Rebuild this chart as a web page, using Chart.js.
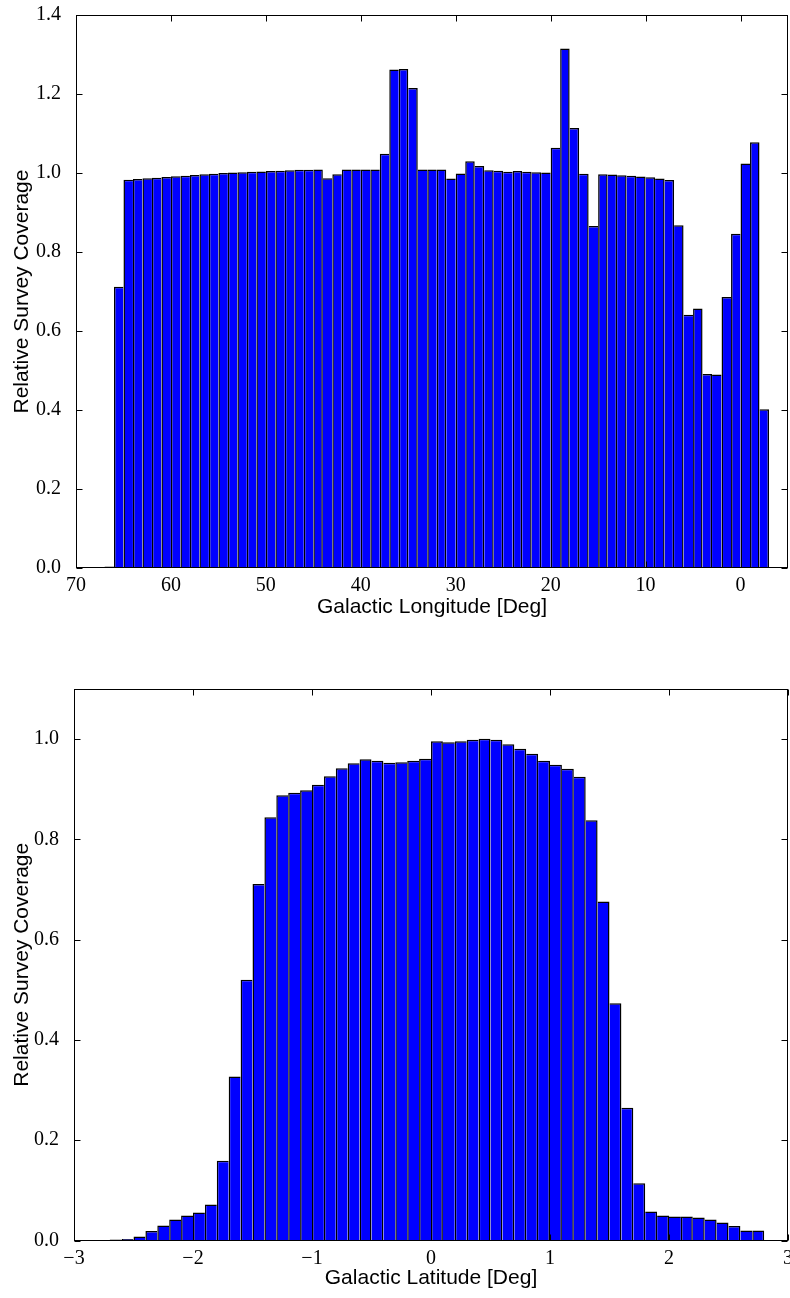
<!DOCTYPE html>
<html>
<head>
<meta charset="utf-8">
<script src="https://cdn.jsdelivr.net/npm/chart.js@4"></script>
<style>
  html, body { margin: 0; padding: 0; background: #fff; }
  canvas { position: absolute; left: 0; }
</style>
</head>
<body>
<canvas id="lon-hist" width="790" height="640" style="top:0"></canvas>
<canvas id="lat-hist" width="790" height="648" style="top:650px"></canvas>
<script>
// Longitude histogram: 1 degree bins, centres from 66.5 down to -2.5
const lonCenters = [
  66.5, 65.5, 64.5, 63.5, 62.5, 61.5, 60.5, 59.5, 58.5, 57.5,
  56.5, 55.5, 54.5, 53.5, 52.5, 51.5, 50.5, 49.5, 48.5, 47.5,
  46.5, 45.5, 44.5, 43.5, 42.5, 41.5, 40.5, 39.5, 38.5, 37.5,
  36.5, 35.5, 34.5, 33.5, 32.5, 31.5, 30.5, 29.5, 28.5, 27.5,
  26.5, 25.5, 24.5, 23.5, 22.5, 21.5, 20.5, 19.5, 18.5, 17.5,
  16.5, 15.5, 14.5, 13.5, 12.5, 11.5, 10.5, 9.5, 8.5, 7.5,
  6.5, 5.5, 4.5, 3.5, 2.5, 1.5, 0.5, -0.5, -1.5, -2.5
];
const lonCoverage = [
  0.004, 0.712, 0.983, 0.985, 0.987, 0.988, 0.990, 0.992, 0.993, 0.995,
  0.997, 0.998, 1.000, 1.001, 1.002, 1.003, 1.004, 1.005, 1.006, 1.007,
  1.008, 1.008, 1.009, 0.987, 0.997, 1.009, 1.009, 1.009, 1.009, 1.049,
  1.262, 1.263, 1.215, 1.009, 1.009, 1.009, 0.986, 0.999, 1.030, 1.018,
  1.007, 1.006, 1.003, 1.005, 1.003, 1.002, 1.001, 1.064, 1.315, 1.114,
  0.998, 0.866, 0.997, 0.996, 0.994, 0.993, 0.991, 0.989, 0.986, 0.982,
  0.868, 0.641, 0.657, 0.491, 0.490, 0.686, 0.846, 1.024, 1.078, 0.402
];
const lonTicks = [70, 60, 50, 40, 30, 20, 10, 0];
const lonYTicks = [0, 0.2, 0.4, 0.6, 0.8, 1.0, 1.2, 1.4];

// Latitude histogram: 0.1 degree bins, centres from -2.95 up to 2.75
const latCenters = [
  -2.95, -2.85, -2.75, -2.65, -2.55, -2.45, -2.35, -2.25, -2.15, -2.05,
  -1.95, -1.85, -1.75, -1.65, -1.55, -1.45, -1.35, -1.25, -1.15, -1.05,
  -0.95, -0.85, -0.75, -0.65, -0.55, -0.45, -0.35, -0.25, -0.15, -0.05,
  0.05, 0.15, 0.25, 0.35, 0.45, 0.55, 0.65, 0.75, 0.85, 0.95,
  1.05, 1.15, 1.25, 1.35, 1.45, 1.55, 1.65, 1.75, 1.85, 1.95,
  2.05, 2.15, 2.25, 2.35, 2.45, 2.55, 2.65, 2.75
];
const latCoverage = [
  0, 0.001, 0.001, 0.002, 0.003, 0.008, 0.019, 0.030, 0.042, 0.050,
  0.056, 0.072, 0.159, 0.327, 0.520, 0.711, 0.844, 0.888, 0.893, 0.898,
  0.909, 0.926, 0.942, 0.952, 0.960, 0.957, 0.953, 0.954, 0.957, 0.961,
  0.996, 0.994, 0.996, 0.999, 1.001, 0.999, 0.990, 0.981, 0.971, 0.957,
  0.949, 0.941, 0.925, 0.838, 0.676, 0.473, 0.265, 0.114, 0.058, 0.050,
  0.048, 0.048, 0.046, 0.042, 0.036, 0.029, 0.020, 0.020
];
const latTicks = [-3, -2, -1, 0, 1, 2, 3];
const latYTicks = [0, 0.2, 0.4, 0.6, 0.8, 1.0];

const tickFont = { family: '"Liberation Serif", "DejaVu Serif", serif', size: 20 };
const titleFont = { family: '"Liberation Sans", Arial, sans-serif', size: 21 };
const EDGE = 1.5;

// each shared edge is drawn once, by the taller of the two neighbours
function edgeWidths(ctx) {
  const d = ctx.dataset.data;
  const i = ctx.dataIndex;
  const h = d[i].y;
  const prev = i > 0 ? d[i - 1].y : -1;
  const next = i < d.length - 1 ? d[i + 1].y : -1;
  return { top: EDGE, bottom: 0, left: h >= prev ? EDGE : 0, right: h > next ? EDGE : 0 };
}

// box around the axes plus inward ticks on all four sides
const frameTicks = {
  id: 'frameTicks',
  afterDatasetsDraw(chart) {
    const { ctx, chartArea: a, scales: { x, y } } = chart;
    const L = Math.round(a.left) + 0.5, R = Math.round(a.right) - 0.5;
    const T = Math.round(a.top) + 0.5, B = Math.round(a.bottom) - 0.5;
    ctx.save();
    ctx.strokeStyle = '#000';
    ctx.lineWidth = 1;
    ctx.beginPath();
    x.ticks.forEach(t => {
      const px = Math.round(x.getPixelForValue(t.value)) + 0.5;
      ctx.moveTo(px, B); ctx.lineTo(px, B - 6);
      ctx.moveTo(px, T); ctx.lineTo(px, T + 6);
    });
    y.ticks.forEach(t => {
      const py = Math.round(y.getPixelForValue(t.value)) + 0.5;
      ctx.moveTo(L, py); ctx.lineTo(L + 6, py);
      ctx.moveTo(R, py); ctx.lineTo(R - 6, py);
    });
    ctx.stroke();
    ctx.strokeRect(L, T, R - L, B - T);
    ctx.restore();
  }
};

function makeHist(id, centers, values, opts) {
  return new Chart(id, {
    type: 'bar',
    data: {
      datasets: [{
        data: centers.map((c, i) => ({ x: c, y: values[i] })),
        backgroundColor: '#0000ff',
        borderColor: '#000000',
        borderWidth: edgeWidths,
        inflateAmount: 0,
        barPercentage: 1,
        categoryPercentage: 1
      }]
    },
    options: {
      responsive: false,
      animation: false,
      layout: { padding: opts.padding },
      plugins: { legend: { display: false }, tooltip: { enabled: false } },
      scales: {
        x: {
          type: 'linear',
          min: opts.xMin,
          max: opts.xMax,
          reverse: opts.reverse,
          offset: false,
          grid: { display: false, offset: false },
          border: { display: false },
          afterBuildTicks: s => { s.ticks = opts.xTicks.map(v => ({ value: v })); },
          afterFit: s => { s.height = opts.xHeight; s.paddingLeft = 0; s.paddingRight = 0; },
          ticks: {
            font: tickFont, color: '#000', padding: -2, maxRotation: 0, autoSkip: false,
            callback: v => String(v).replace('-', '\u2212')
          },
          title: {
            display: true, text: opts.xTitle, font: titleFont, color: '#000',
            padding: { top: 0, bottom: opts.xTitlePad }
          }
        },
        y: {
          min: 0,
          max: opts.yMax,
          grid: { display: false },
          border: { display: false },
          afterBuildTicks: s => { s.ticks = opts.yTicks.map(v => ({ value: v })); },
          afterFit: s => { s.width = opts.yWidth; s.paddingTop = 0; s.paddingBottom = 0; },
          ticks: { font: tickFont, color: '#000', padding: 7, callback: v => v.toFixed(1) },
          title: {
            display: true, text: 'Relative Survey Coverage', font: titleFont, color: '#000',
            padding: { top: 10, bottom: 0 }
          }
        }
      }
    },
    plugins: [frameTicks]
  });
}

makeHist('lon-hist', lonCenters, lonCoverage, {
  xMin: -5, xMax: 70, reverse: true, xTicks: lonTicks,
  yMax: 1.4, yTicks: lonYTicks,
  xTitle: 'Galactic Longitude [Deg]', xTitlePad: 20,
  padding: { top: 15, right: 2, left: 0, bottom: 0 },
  xHeight: 72, yWidth: 76
});

makeHist('lat-hist', latCenters, latCoverage, {
  xMin: -3, xMax: 3, reverse: false, xTicks: latTicks,
  yMax: 1.1, yTicks: latYTicks,
  xTitle: 'Galactic Latitude [Deg]', xTitlePad: 7,
  padding: { top: 39, right: 2, left: 0, bottom: 0 },
  xHeight: 57.5, yWidth: 74
});
</script>
</body>
</html>
